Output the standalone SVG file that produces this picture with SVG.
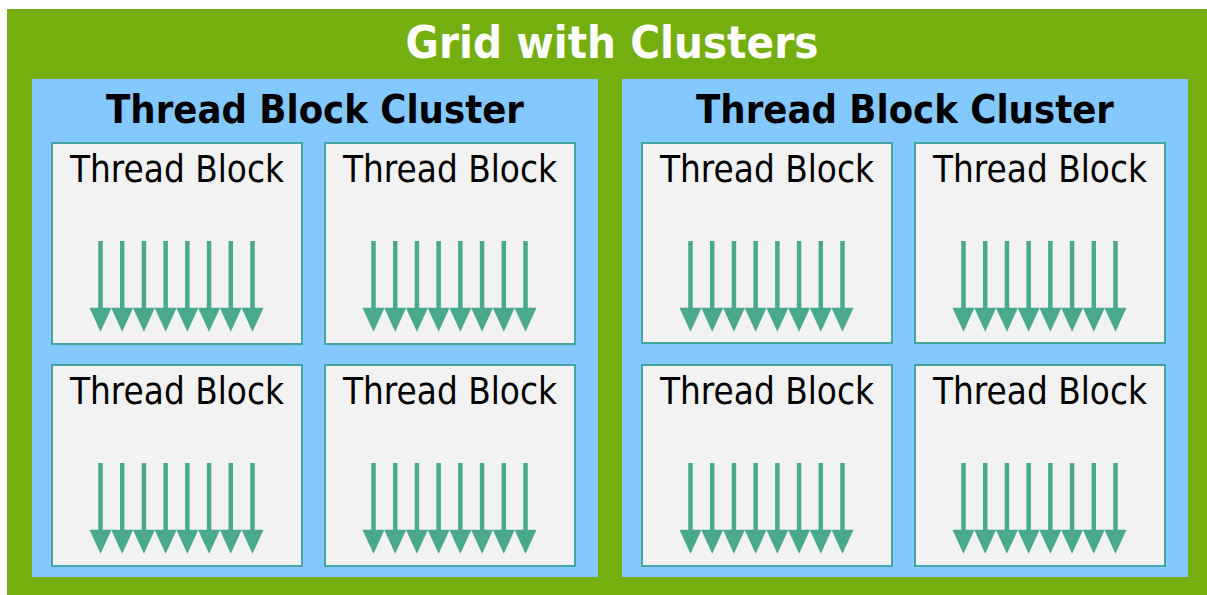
<svg xmlns="http://www.w3.org/2000/svg" xmlns:xlink="http://www.w3.org/1999/xlink" width="1207" height="595" viewBox="0 0 1207 595">
<style>
.grid{fill:#75ae0f}
.cluster{fill:#83c9ff}
.block{fill:#f2f2f2;stroke:#45a6a0;stroke-width:2}
.t{font-family:"DejaVu Sans","Liberation Sans",sans-serif;font-stretch:condensed;text-anchor:middle}
.gt{font-size:45.2px;font-weight:bold;fill:#ffffff}
.ct{font-size:39.6px;font-weight:bold;fill:#000000}
.bt{font-size:36.5px;fill:#000000}
.shaft{stroke:#4aa88c;stroke-width:4.5}
.head{fill:#4aa88c}
</style>
<defs>
<g id="arrows">
<g class="shaft">
<line x1="-76" y1="98" x2="-76" y2="166"/>
<line x1="-54.29" y1="98" x2="-54.29" y2="166"/>
<line x1="-32.57" y1="98" x2="-32.57" y2="166"/>
<line x1="-10.86" y1="98" x2="-10.86" y2="166"/>
<line x1="10.86" y1="98" x2="10.86" y2="166"/>
<line x1="32.57" y1="98" x2="32.57" y2="166"/>
<line x1="54.29" y1="98" x2="54.29" y2="166"/>
<line x1="76" y1="98" x2="76" y2="166"/>
</g>
<g class="head">
<polygon points="-87,164.7 -65,164.7 -76,188.7"/>
<polygon points="-65.29,164.7 -43.29,164.7 -54.29,188.7"/>
<polygon points="-43.57,164.7 -21.57,164.7 -32.57,188.7"/>
<polygon points="-21.86,164.7 0.14,164.7 -10.86,188.7"/>
<polygon points="-0.14,164.7 21.86,164.7 10.86,188.7"/>
<polygon points="21.57,164.7 43.57,164.7 32.57,188.7"/>
<polygon points="43.29,164.7 65.29,164.7 54.29,188.7"/>
<polygon points="65,164.7 87,164.7 76,188.7"/>
</g>
</g>
</defs>
<g id="grid">
<rect class="grid" x="7" y="9" width="1200" height="586"/>
<text class="t gt" x="612" y="58">Grid with Clusters</text>
</g>
<g id="cluster1">
<rect class="cluster" x="32" y="79" width="566" height="498"/>
<text class="t ct" x="315" y="123">Thread Block Cluster</text>
</g>
<g id="cluster2">
<rect class="cluster" x="622" y="79" width="566" height="498"/>
<text class="t ct" x="905" y="123">Thread Block Cluster</text>
</g>
<g id="block1">
<rect class="block" x="52" y="143" width="250" height="201"/>
<text class="t bt" x="177" y="182">Thread Block</text>
<use xlink:href="#arrows" x="176.5" y="143"/>
</g>
<g id="block2">
<rect class="block" x="325" y="143" width="250" height="201"/>
<text class="t bt" x="450" y="182">Thread Block</text>
<use xlink:href="#arrows" x="449.5" y="143"/>
</g>
<g id="block3">
<rect class="block" x="52" y="365" width="250" height="201"/>
<text class="t bt" x="177" y="404">Thread Block</text>
<use xlink:href="#arrows" x="176.5" y="365"/>
</g>
<g id="block4">
<rect class="block" x="325" y="365" width="250" height="201"/>
<text class="t bt" x="450" y="404">Thread Block</text>
<use xlink:href="#arrows" x="449.5" y="365"/>
</g>
<g id="block5">
<rect class="block" x="642" y="143" width="250" height="200"/>
<text class="t bt" x="767" y="182">Thread Block</text>
<use xlink:href="#arrows" x="766.5" y="143"/>
</g>
<g id="block6">
<rect class="block" x="915" y="143" width="250" height="200"/>
<text class="t bt" x="1040" y="182">Thread Block</text>
<use xlink:href="#arrows" x="1039.5" y="143"/>
</g>
<g id="block7">
<rect class="block" x="642" y="365" width="250" height="201"/>
<text class="t bt" x="767" y="404">Thread Block</text>
<use xlink:href="#arrows" x="766.5" y="365"/>
</g>
<g id="block8">
<rect class="block" x="915" y="365" width="250" height="201"/>
<text class="t bt" x="1040" y="404">Thread Block</text>
<use xlink:href="#arrows" x="1039.5" y="365"/>
</g>
<g id="connectors"></g>
</svg>
